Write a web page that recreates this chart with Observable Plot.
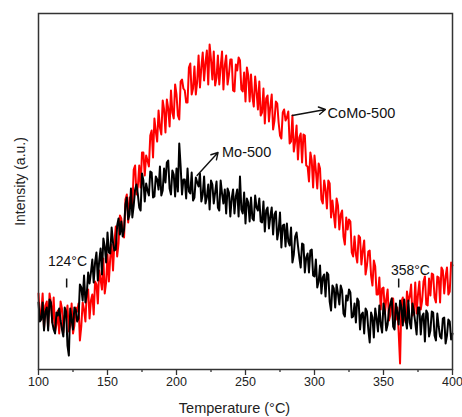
<!DOCTYPE html>
<html><head><meta charset="utf-8">
<script src="https://cdn.jsdelivr.net/npm/d3@7"></script>
<script src="https://cdn.jsdelivr.net/npm/@observablehq/plot@0.6"></script>
<style>
body{margin:0;background:#fff;}
</style></head><body><div id="chart"></div>
<script>
// Temperature grid (°C), one reading every 1 °C
const temperatures = d3.range(100, 401, 1);

// Mo-500 intensity (a.u.)
const mo500 = [
67,48,50,67,39,58,62,39,70,67,47,40,36,57,54,61,49,40,33,62,
58,24,14,61,50,40,62,60,48,51,85,82,69,94,67,76,97,86,97,110,
87,107,117,89,109,121,95,131,123,107,137,117,116,142,127,119,120,144,151,135,
148,133,140,165,172,150,155,181,152,164,180,185,175,162,159,196,189,168,186,179,
174,198,197,172,173,193,190,180,203,174,179,201,187,207,209,181,175,199,195,173,
201,178,226,203,175,190,190,171,201,178,176,197,169,172,192,187,183,196,168,175,
193,166,172,185,160,189,185,166,177,188,162,159,189,176,166,180,156,181,177,153,
171,180,156,173,180,153,193,160,156,177,146,171,167,148,172,151,149,174,162,159,
171,148,147,168,138,159,162,141,153,162,135,155,158,130,139,157,122,144,145,123,
146,128,124,142,107,115,133,137,124,112,102,126,125,97,112,116,97,119,120,94,
93,110,82,88,104,76,92,95,73,97,95,68,59,84,81,62,85,76,65,84,
79,56,53,74,69,80,77,52,53,66,47,71,68,40,55,57,36,61,58,40,
27,57,52,32,61,51,38,64,45,37,66,58,39,45,60,66,71,43,40,66,
57,45,69,62,44,70,50,41,69,47,41,66,58,47,35,62,62,35,53,56,
28,59,56,33,39,58,57,34,29,56,43,33,31,51,52,26,34,50,48,30,
36];

// CoMo-500 intensity (a.u.)
const como500 = [
76,51,57,76,41,64,68,43,76,67,47,72,38,45,59,36,68,61,37,54,
52,64,38,44,66,36,44,62,58,66,29,43,67,60,48,78,80,51,69,75,
55,88,85,66,99,90,80,111,76,87,115,88,112,125,99,127,143,113,126,154,
151,137,132,170,175,147,172,166,162,200,204,175,183,204,182,217,217,194,214,209,
203,234,239,212,251,238,228,259,242,235,269,260,237,270,261,243,279,257,251,285,
275,254,250,288,290,281,279,267,267,302,306,275,281,303,275,288,314,282,302,317,
289,307,319,285,325,310,290,318,284,292,314,285,303,318,280,304,314,285,295,310,
310,279,278,305,299,312,309,280,278,297,268,302,294,268,295,273,263,293,278,260,
288,254,257,281,246,271,274,248,263,275,240,249,268,266,247,234,231,257,260,249,
252,258,226,228,254,218,228,244,210,232,236,207,235,234,204,203,188,217,209,182,
214,199,181,206,201,170,166,189,180,161,189,186,152,169,155,142,171,164,140,155,
159,133,125,152,140,150,148,117,113,133,115,107,134,132,105,119,129,95,104,118,
119,94,84,109,103,75,75,92,60,81,82,56,70,80,49,55,71,71,48,50,
62,37,6,68,72,53,47,78,68,73,85,54,57,87,56,75,88,60,69,88,
93,65,64,91,74,96,95,72,67,93,92,67,102,99,76,93,102,75,78,107,
104];

const majorTicks = [100, 150, 200, 250, 300, 350, 400];
const minorTicks = [125, 175, 225, 275, 325, 375];

// Peak-temperature annotations (text anchor in data space, marker position)
const peakLabels = ["124°C", "358°C"];
const peakLabelT = [121, 369.5];
const peakLabelI = [104, 95];
const peakMarkT = [120.4, 361];
const peakMarkTop = [91, 91];
const peakMarkBottom = [82, 82];

// Series labels with arrows
const seriesLabels = ["Mo-500", "CoMo-500"];
const seriesLabelT = [233, 309.5];
const seriesLabelI = [217, 256];
const arrowFromT = [214.9, 283.9];
const arrowFromI = [194, 254];
const arrowToT = [230.1, 307.9];
const arrowToI = [217, 260];

const moData = temperatures.map((t, i) => ({T: t, v: mo500[i]}));
const coData = temperatures.map((t, i) => ({T: t, v: como500[i]}));
const peaks = peakLabels.map((s, i) => ({s, T: peakLabelT[i], I: peakLabelI[i], mT: peakMarkT[i], m1: peakMarkTop[i], m2: peakMarkBottom[i]}));
const series = seriesLabels.map((s, i) => ({s, T: seriesLabelT[i], I: seriesLabelI[i], x1: arrowFromT[i], y1: arrowFromI[i], x2: arrowToT[i], y2: arrowToI[i]}));

const font = "'Liberation Sans',Arial,sans-serif";

const chart = Plot.plot({
  width: 462,
  height: 417,
  marginTop: 13,
  marginBottom: 48,
  marginLeft: 38,
  marginRight: 10,
  style: {fontFamily: font, background: "#fff", color: "#222"},
  x: {domain: [100, 400]},
  y: {domain: [0, 356]},
  marks: [
    Plot.line(coData, {x: "T", y: "v", stroke: "#ff0000", strokeWidth: 2}),
    Plot.line(moData, {x: "T", y: "v", stroke: "#000000", strokeWidth: 2}),
    Plot.frame({stroke: "#333", strokeWidth: 1.5}),
    Plot.axisX({ticks: majorTicks, tickSize: 6, tickPadding: 2, fontSize: 12.5, label: null, stroke: "#333", strokeWidth: 1.3}),
    Plot.axisX({ticks: minorTicks, tickSize: 3, text: null, label: null, stroke: "#333", strokeWidth: 1.3}),
    Plot.axisY({ticks: [], label: null}),
    Plot.text(["Temperature (°C)"], {frameAnchor: "bottom", textAnchor: "middle", dy: 43, dx: -11, fontSize: 14.5, fill: "#222"}),
    Plot.text(["Intensity (a.u.)"], {frameAnchor: "left", textAnchor: "middle", rotate: -90, dx: -18, dy: -10, fontSize: 14, fill: "#222"}),
    Plot.text(peaks, {x: "T", y: "I", text: "s", fontSize: 14, fill: "#111", lineAnchor: "bottom"}),
    Plot.link(peaks, {x1: "mT", x2: "mT", y1: "m1", y2: "m2", stroke: "#111", strokeWidth: 1.5}),
    Plot.text(series, {x: "T", y: "I", text: "s", fontSize: 14.5, fill: "#111", textAnchor: "start"}),
    Plot.arrow(series, {x1: "x1", y1: "y1", x2: "x2", y2: "y2", stroke: "#111", strokeWidth: 1.4, headLength: 8})
  ]
});
document.getElementById("chart").appendChild(chart);
</script></body></html>
